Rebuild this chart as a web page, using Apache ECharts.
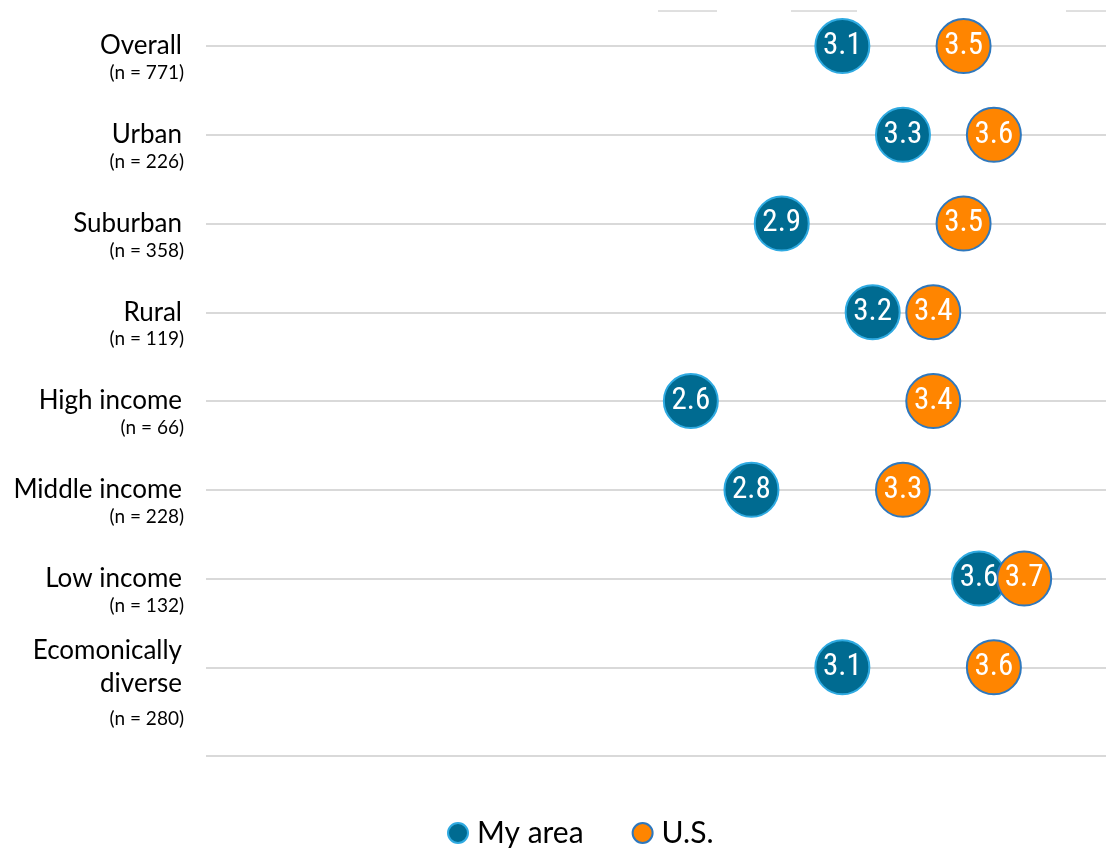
<!DOCTYPE html>
<html>
<head>
<meta charset="utf-8">
<script src="https://cdn.jsdelivr.net/npm/echarts@6/dist/echarts.min.js"></script>
<style>html,body{margin:0;padding:0;background:#fff;}#c{width:1106px;height:849px;}</style>
</head>
<body>
<div id="c"></div>
<script>
const categories = ['Overall','Urban','Suburban','Rural','High income','Middle income','Low income','Ecomonically\ndiverse'];
const sampleSizes = ['(n = 771)','(n = 226)','(n = 358)','(n = 119)','(n = 66)','(n = 228)','(n = 132)','(n = 280)'];
const myArea = [3.1, 3.3, 2.9, 3.2, 2.6, 2.8, 3.551, 3.1];
const us = [3.5, 3.6, 3.5, 3.4, 3.4, 3.3, 3.7, 3.6];
const seriesNames = ['My area', 'U.S.'];

const chart = echarts.init(document.getElementById('c'));
const labelFont = 'Lato, "Noto Sans", sans-serif';
const numFont = '"Liberation Sans Narrow", "Roboto Condensed", Roboto, sans-serif';

function pts(arr){ return arr.map((v,i)=>[v,i]); }
function fmt(p){ return (Math.round(p.value[0]*10)/10).toFixed(1); }

const yBase = {
  type:'value', min:0, max:8, interval:1, inverse:true,
  axisLine:{show:false}, axisTick:{show:false}
};

chart.setOption({
  animation:false,
  grid:{left:206, right:0, top:46, bottom:93},
  xAxis:{type:'value', min:1, max:3.97, show:false},
  yAxis:[
    Object.assign({}, yBase, {
      splitLine:{show:true, lineStyle:{color:'#d9d9d9', width:2}},
      axisLabel:{
        margin:24, color:'#000', fontFamily:labelFont, fontSize:26, lineHeight:33, align:'right',
        formatter:function(v){ return categories[v] !== undefined ? categories[v] : ''; }
      }
    }),
    Object.assign({}, yBase, {
      position:'left',
      splitLine:{show:false},
      axisLabel:{
        margin:22, color:'#000', fontFamily:labelFont, fontSize:19, align:'right',
        formatter:function(v){
          if (sampleSizes[v] === undefined) return '';
          return (v === 7 ? '{nb|' : '{n|') + sampleSizes[v] + '}';
        },
        rich:{
          n:{fontFamily:labelFont, fontSize:19, lineHeight:22, color:'#000', padding:[54,0,0,0]},
          nb:{fontFamily:labelFont, fontSize:19, lineHeight:22, color:'#000', padding:[104,0,0,0]}
        }
      }
    })
  ],
  legend:{
    left:442, top:813, itemWidth:20, itemHeight:20, itemGap:48,
    icon:'circle',
    textStyle:{fontFamily:labelFont, fontSize:30, color:'#000', padding:[0,0,0,4]},
    data:seriesNames
  },
  series:[
    {
      name:seriesNames[0], type:'scatter', yAxisIndex:0, symbolSize:54,
      data:pts(myArea),
      itemStyle:{color:'#006B91', borderColor:'#2FAAE1', borderWidth:2, opacity:1},
      label:{show:true, position:'inside', color:'#fff', fontFamily:numFont, fontSize:31, formatter:fmt}
    },
    {
      name:seriesNames[1], type:'scatter', yAxisIndex:0, symbolSize:54,
      data:pts(us),
      itemStyle:{color:'#FF8500', borderColor:'#2E78BE', borderWidth:2, opacity:1},
      label:{show:true, position:'inside', color:'#fff', fontFamily:numFont, fontSize:31, formatter:fmt}
    }
  ],
  graphic:[
    {type:'line', shape:{x1:658,y1:11,x2:717,y2:11}, style:{stroke:'#c0c0c0', lineWidth:1}},
    {type:'line', shape:{x1:791,y1:11,x2:857,y2:11}, style:{stroke:'#c0c0c0', lineWidth:1}},
    {type:'line', shape:{x1:1066,y1:11,x2:1106,y2:11}, style:{stroke:'#c0c0c0', lineWidth:1}}
  ]
});
</script>
</body>
</html>
